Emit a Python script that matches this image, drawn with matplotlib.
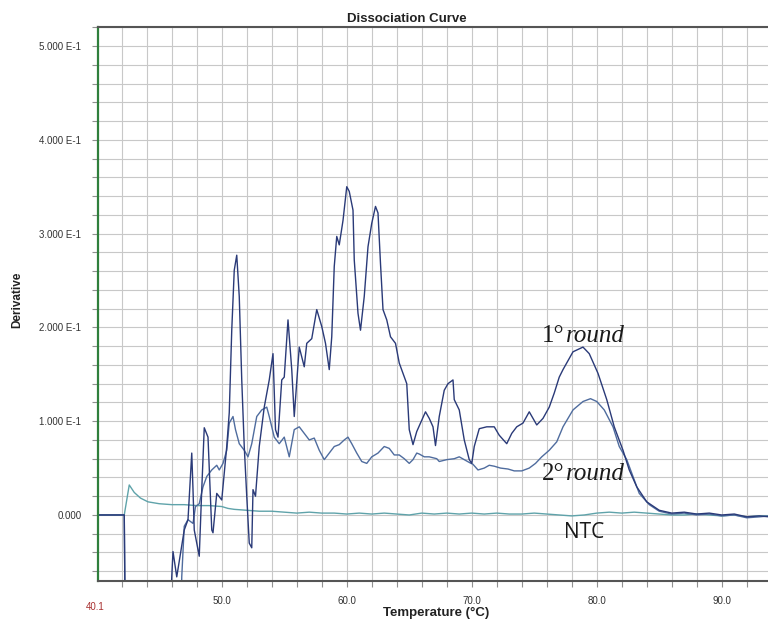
import numpy as np
import matplotlib.pyplot as plt
from matplotlib.ticker import MultipleLocator, FixedLocator

# melt curve readings (temperature in C, derivative)
t_round1 = [40.1, 42.2, 42.3, 45.8, 46.0, 46.1, 46.4, 47.0, 47.3, 47.6, 47.7, 47.8, 48.2, 48.4, 48.6, 48.9,
            49.2, 49.3, 49.6, 50.0, 50.4, 50.6, 50.8, 51.0, 51.2, 51.4, 51.6, 51.8, 52.0, 52.2, 52.4, 52.5,
            52.7, 53.0, 53.4, 53.8, 54.1, 54.3, 54.5, 54.8, 55.0, 55.3, 55.6, 55.8, 56.2, 56.6, 56.8, 57.2,
            57.6, 58.0, 58.3, 58.6, 58.8, 59.0, 59.2, 59.4, 59.7, 60.0, 60.2, 60.5, 60.6, 60.9, 61.1, 61.4,
            61.7, 62.0, 62.3, 62.5, 62.7, 62.9, 63.2, 63.5, 63.9, 64.2, 64.8, 65.0, 65.3, 65.6, 66.0, 66.3,
            66.6, 66.9, 67.1, 67.4, 67.8, 68.1, 68.5, 68.6, 69.0, 69.4, 69.8, 70.0, 70.2, 70.6, 71.2, 71.8,
            72.2, 72.8, 73.2, 73.6, 74.1, 74.6, 75.2, 75.7, 76.2, 76.6, 77.0, 77.3, 78.1, 78.9, 79.4, 80.1,
            80.8, 81.4, 82.1, 82.6, 83.2, 84.0, 85.0, 86.0, 87.0, 88.0, 89.0, 90.0, 91.0, 92.0, 93.0, 93.8]
d_round1 = [0.0, 0.0, -0.15, -0.15, -0.066, -0.039, -0.066, -0.016, -0.005, 0.066, 0.027, -0.016, -0.044,
            0.027, 0.093, 0.083, -0.016, -0.019, 0.023, 0.016, 0.073, 0.109, 0.197, 0.261, 0.277, 0.233,
            0.144, 0.073, 0.020, -0.030, -0.035, 0.027, 0.020, 0.073, 0.115, 0.144, 0.172, 0.091, 0.083,
            0.144, 0.147, 0.208, 0.155, 0.105, 0.179, 0.158, 0.183, 0.188, 0.219, 0.201, 0.183, 0.155,
            0.190, 0.265, 0.297, 0.288, 0.314, 0.350, 0.345, 0.325, 0.272, 0.215, 0.197, 0.233, 0.286,
            0.311, 0.329, 0.322, 0.268, 0.219, 0.208, 0.190, 0.183, 0.162, 0.140, 0.091, 0.075, 0.089,
            0.101, 0.110, 0.103, 0.094, 0.074, 0.105, 0.133, 0.140, 0.144, 0.123, 0.112, 0.080, 0.059,
            0.055, 0.073, 0.092, 0.094, 0.094, 0.085, 0.076, 0.087, 0.094, 0.098, 0.110, 0.096, 0.103,
            0.115, 0.130, 0.147, 0.155, 0.174, 0.179, 0.172, 0.151, 0.123, 0.094, 0.069, 0.048, 0.030,
            0.014, 0.005, 0.002, 0.003, 0.001, 0.002, 0.000, 0.001, -0.002, -0.001, -0.002]

t_round2 = [40.1, 42.2, 42.3, 46.7, 46.8, 47.0, 47.3, 47.7, 47.9, 48.2, 48.5, 48.8, 49.2, 49.6, 49.8, 50.1,
            50.4, 50.6, 50.9, 51.1, 51.4, 51.8, 52.1, 52.4, 52.8, 53.2, 53.6, 53.8, 54.2, 54.6, 55.0, 55.4,
            55.8, 56.2, 56.6, 57.0, 57.4, 57.8, 58.2, 58.6, 59.0, 59.4, 59.8, 60.1, 60.4, 60.8, 61.2, 61.6,
            62.0, 62.5, 63.0, 63.4, 63.8, 64.2, 64.6, 65.0, 65.3, 65.6, 65.8, 66.2, 66.6, 67.2, 67.4, 68.0,
            68.6, 69.0, 69.4, 69.8, 70.1, 70.5, 71.0, 71.4, 71.8, 72.3, 72.9, 73.4, 74.0, 74.6, 75.1, 75.6,
            76.2, 76.8, 77.3, 78.1, 78.9, 79.5, 80.0, 80.6, 81.3, 81.8, 82.4, 82.9, 83.4, 84.2, 85.0, 86.0,
            87.0, 88.0, 89.0, 90.0, 91.0, 92.0, 93.0, 93.8]
d_round2 = [0.0, 0.0, -0.15, -0.15, -0.066, -0.012, -0.005, -0.009, 0.009, 0.012, 0.030, 0.041, 0.048,
            0.053, 0.048, 0.055, 0.069, 0.098, 0.105, 0.091, 0.076, 0.069, 0.062, 0.076, 0.105, 0.112,
            0.115, 0.105, 0.083, 0.076, 0.083, 0.062, 0.091, 0.094, 0.087, 0.080, 0.082, 0.069, 0.059,
            0.066, 0.073, 0.075, 0.080, 0.083, 0.076, 0.066, 0.057, 0.055, 0.062, 0.066, 0.073, 0.071,
            0.064, 0.064, 0.060, 0.055, 0.059, 0.066, 0.065, 0.062, 0.062, 0.060, 0.057, 0.059, 0.060,
            0.062, 0.059, 0.056, 0.054, 0.048, 0.050, 0.053, 0.052, 0.050, 0.049, 0.047, 0.047, 0.050,
            0.055, 0.062, 0.069, 0.078, 0.094, 0.112, 0.121, 0.124, 0.121, 0.112, 0.094, 0.073, 0.059,
            0.041, 0.023, 0.011, 0.004, 0.001, 0.002, 0.000, 0.001, -0.001, 0.000, -0.003, -0.002, -0.001]

t_ntc = [40.1, 42.2, 42.6, 43.0, 43.5, 44.1, 45.0, 46.0, 47.0, 48.0, 49.0, 50.0, 50.5, 51.0, 52.0, 53.0,
         54.0, 55.0, 56.0, 57.0, 58.0, 59.0, 60.0, 61.0, 62.0, 63.0, 64.0, 65.0, 66.0, 67.0, 68.0, 69.0,
         70.0, 71.0, 72.0, 73.0, 74.0, 75.0, 76.0, 77.0, 78.0, 79.0, 80.0, 81.0, 82.0, 83.0, 84.0, 85.0,
         86.0, 87.0, 88.0, 89.0, 90.0, 91.0, 92.0, 93.0, 93.8]
d_ntc = [0.0, 0.0, 0.032, 0.024, 0.018, 0.014, 0.012, 0.011, 0.011, 0.010, 0.010, 0.009, 0.007, 0.006,
         0.005, 0.004, 0.004, 0.003, 0.002, 0.003, 0.002, 0.002, 0.001, 0.002, 0.001, 0.002, 0.001, 0.000,
         0.002, 0.001, 0.002, 0.001, 0.002, 0.001, 0.002, 0.001, 0.001, 0.002, 0.001, 0.000, -0.001, 0.000,
         0.002, 0.003, 0.002, 0.003, 0.002, 0.001, 0.000, 0.000, 0.001, 0.000, -0.001, 0.000, -0.002,
         -0.001, -0.001]

y_ticks = [0.0, 0.1, 0.2, 0.3, 0.4, 0.5]
y_labels = ['0.000', '1.000 E-1', '2.000 E-1', '3.000 E-1', '4.000 E-1', '5.000 E-1']
x_ticks = [50, 60, 70, 80, 90]
x_labels = ['50.0', '60.0', '70.0', '80.0', '90.0']

plt.rcParams['font.family'] = ['Liberation Sans', 'DejaVu Sans']

fig = plt.figure(figsize=(7.68, 6.21), dpi=100)
ax = fig.add_axes([98 / 768, 40 / 621, 670 / 768, 554 / 621])

ax.set_xlim(40.1, 93.7)
ax.set_ylim(-0.0704, 0.5203)

# grid every 2 degrees / 0.02
ax.xaxis.set_minor_locator(MultipleLocator(2))
ax.yaxis.set_minor_locator(MultipleLocator(0.02))
ax.grid(which='both', color='#c8c8c8', lw=0.8)
ax.set_axisbelow(True)

ax.plot(t_ntc, d_ntc, color='#5fa3aa', lw=1.0)
ax.plot(t_round2, d_round2, color='#4f6c9e', lw=1.0)
ax.plot(t_round1, d_round1, color='#2a3a78', lw=1.0)

ax.xaxis.set_major_locator(FixedLocator(x_ticks))
ax.set_xticklabels(x_labels)
ax.yaxis.set_major_locator(FixedLocator(y_ticks))
ax.set_yticklabels(y_labels)
ax.tick_params(which='both', direction='out', length=4, width=0.8, color='#909090',
               labelsize=7, labelcolor='#333333')
ax.tick_params(axis='x', pad=7)
ax.tick_params(axis='y', pad=8)

ax.spines['right'].set_visible(False)
ax.spines['left'].set_color('#2f7f3c')
ax.spines['left'].set_linewidth(1.6)
ax.spines['top'].set_color('#555555')
ax.spines['top'].set_linewidth(1.5)
ax.spines['bottom'].set_color('#555555')
ax.spines['bottom'].set_linewidth(1.5)

# curve labels
serif = ['Liberation Serif', 'DejaVu Serif']
ax.text(77.45, 0.184, '1°', family=serif, fontsize=18, ha='right', va='baseline', color='#1a1a1a')
ax.text(77.55, 0.184, 'round', family=serif, fontsize=18, style='italic', ha='left', va='baseline',
        color='#1a1a1a')
ax.text(77.45, 0.0373, '2°', family=serif, fontsize=18, ha='right', va='baseline', color='#1a1a1a')
ax.text(77.55, 0.0373, 'round', family=serif, fontsize=18, style='italic', ha='left', va='baseline',
        color='#1a1a1a')
ax.text(79.0, -0.0245, 'NTC', family=['Open Sans', 'DejaVu Sans'], fontsize=15, ha='center',
        va='baseline', color='#1a1a1a')

fig.text(407 / 768, 1 - 19 / 621, 'Dissociation Curve', ha='center', va='center',
         fontsize=9.5, fontweight='bold', color='#222222')
fig.text(436 / 768, 1 - 613 / 621, 'Temperature (°C)', ha='center', va='center',
         fontsize=9.5, fontweight='bold', color='#222222')
fig.text(17 / 768, 1 - 300 / 621, 'Derivative', ha='center', va='center', rotation=90,
         fontsize=8.5, fontweight='bold', color='#222222')
fig.text(95 / 768, 1 - 607 / 621, '40.1', ha='center', va='center', fontsize=7, color='#a83030')

fig.savefig('out.png', dpi=100)
